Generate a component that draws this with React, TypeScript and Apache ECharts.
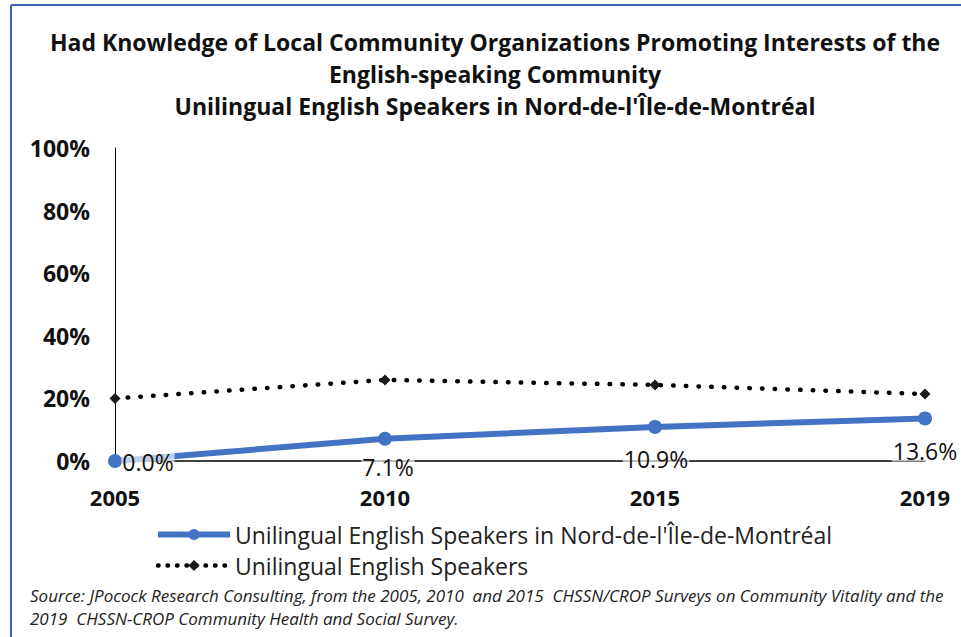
import React, { useEffect, useRef } from "react";
import * as echarts from "echarts";

const years = ["2005", "2010", "2015", "2019"];
const nordValues = [0.0, 7.1, 10.9, 13.6];
const allValues = [20.0, 25.9, 24.3, 21.4];
const yTicks = [0, 20, 40, 60, 80, 100];
const titleLines = [
  "Had Knowledge of Local Community Organizations Promoting Interests of the",
  "English-speaking Community",
  "Unilingual English Speakers in Nord-de-l'Île-de-Montréal",
];
const sourceLines = [
  "Source: JPocock Research Consulting, from the 2005, 2010  and 2015  CHSSN/CROP Surveys on Community Vitality and the",
  "2019  CHSSN-CROP Community Health and Social Survey.",
];
const seriesNames = [
  "Unilingual English Speakers in Nord-de-l'Île-de-Montréal",
  "Unilingual English Speakers",
];
const labelOffsets: [number, number][] = [
  [33, 1],
  [3, 28],
  [1, 32],
  [0, 33],
];

const FONT = "Open Sans";

export default function App() {
  const ref = useRef<HTMLDivElement>(null);
  useEffect(() => {
    if (!ref.current) return;
    const chart = echarts.init(ref.current, null, { renderer: "svg" });
    const option: any = {
      animation: false,
      backgroundColor: "#ffffff",
      textStyle: { fontFamily: FONT },
      title: titleLines.map((t, i) => ({
        text: t,
        left: 490,
        textAlign: "center",
        top: 25 + i * 32,
        textStyle: { fontFamily: FONT, fontSize: 23, fontWeight: "bold", color: "#111" },
      })),
      grid: { left: 115, right: 36, top: 148, bottom: 176, containLabel: false },
      xAxis: {
        type: "category",
        data: years,
        boundaryGap: false,
        axisLine: { show: true, lineStyle: { color: "#000", width: 1.5 } },
        axisTick: { show: false },
        axisLabel: {
          margin: 25,
          fontSize: 22,
          lineHeight: 22,
          fontWeight: "bold",
          color: "#111",
          fontFamily: FONT,
        },
        splitLine: { show: false },
      },
      yAxis: {
        type: "value",
        min: 0,
        max: 100,
        interval: 20,
        axisLine: { show: true, lineStyle: { color: "#000", width: 1 } },
        axisTick: { show: false },
        splitLine: { show: false },
        axisLabel: {
          margin: 25,
          fontSize: 23,
          fontWeight: "bold",
          color: "#111",
          fontFamily: FONT,
          formatter: (v: number) => (yTicks.includes(v) ? v + "%" : ""),
        },
      },
      legend: {
        orient: "vertical",
        left: 150,
        top: 518,
        itemWidth: 72,
        itemHeight: 14,
        itemGap: 8,
        textStyle: { fontSize: 23, color: "#222", fontFamily: FONT, padding: [0, 0, 0, 0] },
        data: [
          { name: seriesNames[0], lineStyle: { width: 6, color: "#4472C4" } },
          { name: seriesNames[1], lineStyle: { width: 4.5, color: "#000", type: [0.5, 9], cap: "round" } },
        ],
      },
      series: [
        {
          name: seriesNames[1],
          type: "line",
          data: allValues,
          symbol: "diamond",
          symbolSize: 11,
          itemStyle: { color: "#1a1a1a" },
          lineStyle: { color: "#000", width: 4.5, type: [0.5, 12.2], cap: "round" },
          z: 2,
        },
        {
          name: seriesNames[0],
          type: "line",
          data: nordValues.map((v, i) => ({
            value: v,
            label: { offset: labelOffsets[i] },
          })),
          symbol: "circle",
          symbolSize: 14,
          itemStyle: { color: "#4472C4" },
          lineStyle: { color: "#4472C4", width: 6 },
          label: {
            show: true,
            position: "inside",
            fontSize: 23,
            color: "#111",
            fontFamily: FONT,
            backgroundColor: "rgba(255,255,255,0.65)",
            padding: [0, 1],
            lineHeight: 20,
            formatter: (p: any) => Number(p.value).toFixed(1) + "%",
          },
          z: 3,
        },
      ],
      graphic: [
        { type: "line", shape: { x1: 11, y1: 5, x2: 961, y2: 5 }, style: { stroke: "#3f63b0", lineWidth: 2 } },
        { type: "line", shape: { x1: 11, y1: 5, x2: 11, y2: 637 }, style: { stroke: "#3f63b0", lineWidth: 2 } },
        ...sourceLines.map((s, i) => ({
          type: "text",
          left: 30,
          top: 587 + i * 23,
          style: {
            text: s,
            font: `italic 17px '${FONT}'`,
            fill: "#222",
          },
        })),
      ],
    };
    chart.setOption(option);
    return () => chart.dispose();
  }, []);
  return (
    <div
      ref={ref}
      style={{ position: "absolute", left: 0, top: 0, width: 961, height: 637 }}
    />
  );
}
